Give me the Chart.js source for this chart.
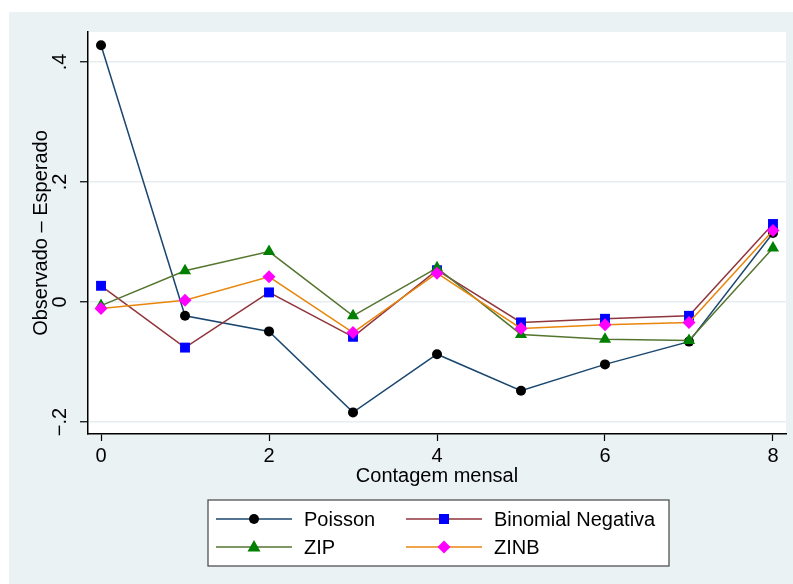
<!DOCTYPE html>
<html>
<head>
<meta charset="utf-8">
<script src="https://cdn.jsdelivr.net/npm/chart.js@4"></script>
<style>
  html, body { margin: 0; padding: 0; background: #ffffff; }
  #wrap { width: 793px; height: 584px; }
</style>
</head>
<body>
<div id="wrap"><canvas id="plotCanvas" width="793" height="584"></canvas></div>
<script>
// counts on the x axis
const counts = [0, 1, 2, 3, 4, 5, 6, 7, 8];

// observed minus expected, per model
const poisson = [0.428, -0.023, -0.049, -0.184, -0.087, -0.148, -0.104, -0.066, 0.115];
const binomNeg = [0.027, -0.076, 0.016, -0.058, 0.053, -0.034, -0.028, -0.023, 0.130];
const zip = [-0.006, 0.052, 0.084, -0.023, 0.057, -0.054, -0.062, -0.064, 0.090];
const zinb = [-0.011, 0.003, 0.042, -0.051, 0.048, -0.044, -0.038, -0.034, 0.119];

const seriesNames = ['Poisson', 'Binomial Negativa', 'ZIP', 'ZINB'];
const xTicks = [0, 2, 4, 6, 8];
const yTicks = [-0.2, 0, 0.2, 0.4];

const FONT = "'Liberation Sans', Arial, sans-serif";

function toPoints(values) {
    return values.map((v, i) => ({ x: counts[i], y: v }));
}

// Stata-like number format: .4, .2, 0, −.2
function stataFmt(v) {
    const r = Math.round(v * 10) / 10;
    if (r === 0) return '0';
    return String(r).replace('0.', '.').replace('-', '\u2212');
}

const bgPlugin = {
    id: 'bgPlugin',
    beforeDraw(chart) {
        const ctx = chart.ctx;
        const a = chart.chartArea;
        ctx.save();
        ctx.fillStyle = '#eaf2f3';
        ctx.fillRect(9, 12, chart.width - 9, chart.height - 12);
        ctx.fillStyle = '#ffffff';
        ctx.fillRect(a.left, a.top, a.right - a.left, a.bottom - a.top);
        ctx.restore();
    }
};

function drawMarker(ctx, style, x, y, color) {
    ctx.fillStyle = color;
    ctx.beginPath();
    if (style === 'circle') {
        ctx.arc(x, y, 5, 0, Math.PI * 2);
    } else if (style === 'rect') {
        ctx.rect(x - 5, y - 5, 10, 10);
    } else if (style === 'triangle') {
        ctx.moveTo(x, y - 7);
        ctx.lineTo(x + 6.5, y + 4.5);
        ctx.lineTo(x - 6.5, y + 4.5);
        ctx.closePath();
    } else {
        ctx.moveTo(x, y - 6.5);
        ctx.lineTo(x + 6.5, y);
        ctx.lineTo(x, y + 6.5);
        ctx.lineTo(x - 6.5, y);
        ctx.closePath();
    }
    ctx.fill();
}

const legendPlugin = {
    id: 'stataLegend',
    afterDraw(chart) {
        const ctx = chart.ctx;
        ctx.save();
        ctx.fillStyle = '#ffffff';
        ctx.fillRect(208, 500, 461, 66);
        ctx.strokeStyle = '#444444';
        ctx.lineWidth = 1.2;
        ctx.strokeRect(208, 500, 461, 66);
        const cols = [216, 406];
        const rows = [519, 547];
        chart.data.datasets.forEach((ds, i) => {
            const x0 = cols[i % 2];
            const y0 = rows[Math.floor(i / 2)];
            ctx.strokeStyle = ds.borderColor;
            ctx.lineWidth = 1.5;
            ctx.beginPath();
            ctx.moveTo(x0, y0);
            ctx.lineTo(x0 + 76, y0);
            ctx.stroke();
            drawMarker(ctx, ds.pointStyle, x0 + 38, y0, ds.pointBackgroundColor);
            ctx.fillStyle = '#000000';
            ctx.font = '20px ' + FONT;
            ctx.textAlign = 'left';
            ctx.textBaseline = 'middle';
            ctx.fillText(ds.label, x0 + 88, y0 + 1);
        });
        ctx.restore();
    }
};

const ctx = document.getElementById('plotCanvas').getContext('2d');

new Chart(ctx, {
    type: 'line',
    data: {
        datasets: [
            {
                label: seriesNames[0],
                data: toPoints(poisson),
                borderColor: '#1a476f',
                pointStyle: 'circle',
                pointRadius: 5,
                pointBackgroundColor: '#000000',
                pointBorderColor: '#000000',
                order: 3
            },
            {
                label: seriesNames[1],
                data: toPoints(binomNeg),
                borderColor: '#90353b',
                pointStyle: 'rect',
                pointRadius: 7,
                pointBackgroundColor: '#0000ff',
                pointBorderColor: '#0000ff',
                order: 2
            },
            {
                label: seriesNames[2],
                data: toPoints(zip),
                borderColor: '#55752f',
                pointStyle: 'triangle',
                pointRadius: 7,
                pointBackgroundColor: '#008000',
                pointBorderColor: '#008000',
                order: 1
            },
            {
                label: seriesNames[3],
                data: toPoints(zinb),
                borderColor: '#e8860c',
                pointStyle: 'rectRot',
                pointRadius: 6.5,
                pointBackgroundColor: '#ff00ff',
                pointBorderColor: '#ff00ff',
                order: 0
            }
        ]
    },
    options: {
        responsive: false,
        animation: false,
        datasets: {
            line: { borderWidth: 1.5, pointBorderWidth: 0, tension: 0, pointHoverRadius: 7 }
        },
        layout: { padding: { top: 32, right: 5, bottom: 92, left: 0 } },
        plugins: {
            legend: { display: false },
            tooltip: { enabled: false }
        },
        scales: {
            x: {
                type: 'linear',
                min: -0.155,
                max: 8.155,
                afterBuildTicks: (scale) => { scale.ticks = xTicks.map(v => ({ value: v })); },
                afterFit: (scale) => { scale.height = 58; },
                ticks: {
                    color: '#000000',
                    font: { family: FONT, size: 20 },
                    padding: 3,
                    maxRotation: 0
                },
                grid: {
                    drawOnChartArea: false,
                    drawTicks: true,
                    tickLength: 7,
                    tickColor: '#000000',
                    tickWidth: 1.2
                },
                border: { display: true, color: '#000000', width: 1.5 },
                title: {
                    display: true,
                    text: 'Contagem mensal',
                    color: '#000000',
                    font: { family: FONT, size: 20 },
                    padding: { top: 0, bottom: 4 }
                }
            },
            y: {
                type: 'linear',
                min: -0.22,
                max: 0.45,
                afterBuildTicks: (scale) => { scale.ticks = yTicks.map(v => ({ value: v })); },
                afterFit: (scale) => { scale.width = 88; },
                ticks: {
                    color: '#000000',
                    font: { family: FONT, size: 20 },
                    minRotation: 90,
                    maxRotation: 90,
                    crossAlign: 'center',
                    padding: 5,
                    callback: (v) => stataFmt(v)
                },
                grid: {
                    color: '#e6eef1',
                    lineWidth: 1.5,
                    drawTicks: true,
                    tickLength: 8,
                    tickColor: '#000000',
                    tickWidth: 1.2
                },
                border: { display: true, color: '#000000', width: 1.5 },
                title: {
                    display: true,
                    text: 'Observado – Esperado',
                    color: '#000000',
                    font: { family: FONT, size: 20 },
                    padding: { top: 29, bottom: 0 }
                }
            }
        }
    },
    plugins: [bgPlugin, legendPlugin]
});
</script>
</body>
</html>
